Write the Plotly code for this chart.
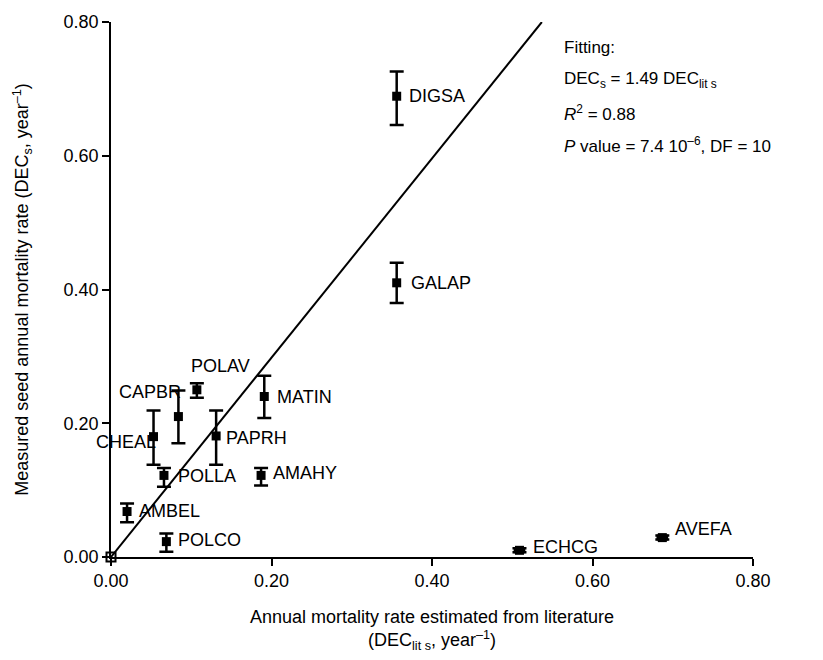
import plotly.graph_objects as go

species = ["DIGSA", "GALAP", "ECHCG", "AVEFA", "MATIN", "POLAV", "CAPBR",
           "CHEAL", "PAPRH", "POLLA", "AMAHY", "AMBEL", "POLCO"]
dec_lit = [0.356, 0.356, 0.509, 0.687, 0.191, 0.107, 0.084,
           0.053, 0.131, 0.066, 0.187, 0.020, 0.069]
dec_s = [0.689, 0.410, 0.010, 0.029, 0.240, 0.250, 0.210,
         0.180, 0.181, 0.122, 0.122, 0.068, 0.023]
err_plus = [0.037, 0.030, 0.003, 0.003, 0.031, 0.010, 0.039,
            0.039, 0.038, 0.011, 0.011, 0.012, 0.012]
err_minus = [0.043, 0.030, 0.003, 0.003, 0.032, 0.012, 0.040,
             0.042, 0.043, 0.017, 0.015, 0.016, 0.015]
err_x = [0, 0, 0.006, 0.006, 0, 0, 0, 0, 0, 0, 0, 0, 0]

slope = 1.49
axis_max = 0.8
tick_vals = [0.0, 0.2, 0.4, 0.6, 0.8]

# label placement (style): (xanchor, yanchor, xshift, yshift)
label_pos = {
    "DIGSA": ("left", "middle", 10, 0),
    "GALAP": ("left", "middle", 12, 0),
    "ECHCG": ("left", "middle", 12, 3),
    "AVEFA": ("left", "middle", 11, 9),
    "MATIN": ("left", "middle", 11, 0),
    "POLAV": ("center", "middle", 24, 24),
    "CAPBR": ("right", "middle", 5, 25),
    "CHEAL": ("right", "middle", 4, -5),
    "PAPRH": ("left", "middle", 8, -2),
    "POLLA": ("left", "middle", 12, -1),
    "AMAHY": ("left", "middle", 10, 2),
    "AMBEL": ("left", "middle", 10, 1),
    "POLCO": ("left", "middle", 10, 2),
}

FONT = "Liberation Sans, Arial, sans-serif"
FS = 18

fig = go.Figure()

# fitted line through origin
fig.add_trace(go.Scatter(
    x=[0, axis_max / slope], y=[0, axis_max], mode="lines",
    line=dict(color="black", width=2), showlegend=False, hoverinfo="skip",
    cliponaxis=False))

# origin point (open square)
fig.add_trace(go.Scatter(
    x=[0], y=[0], mode="markers",
    marker=dict(symbol="square-open", size=9, color="black", line=dict(width=2)),
    showlegend=False, cliponaxis=False))

fig.add_trace(go.Scatter(
    x=dec_lit, y=dec_s, mode="markers",
    marker=dict(symbol="square", size=9, color="black"),
    error_y=dict(type="data", array=err_plus, arrayminus=err_minus,
                 color="black", thickness=2.5, width=7),
    error_x=dict(type="data", array=err_x, color="black", thickness=2, width=3),
    showlegend=False, cliponaxis=False))

annotations = []
for name, xv, yv in zip(species, dec_lit, dec_s):
    xa, ya, xs, ys = label_pos[name]
    annotations.append(dict(
        x=xv, y=yv, xref="x", yref="y", text=name, showarrow=False,
        xanchor=xa, yanchor=ya, xshift=xs, yshift=ys,
        font=dict(family=FONT, size=FS, color="black")))

fit_lines = [
    "Fitting:",
    "DEC<sub>s</sub> = 1.49 DEC<sub>lit s</sub>",
    "<i>R</i><sup>2</sup> = 0.88",
    "<i>P</i> value = 7.4 10<sup>\u20136</sup>, DF = 10",
]
fit_y = [0.952, 0.891, 0.829, 0.770]
for t, yy in zip(fit_lines, fit_y):
    annotations.append(dict(
        x=0.7025, y=yy, xref="paper", yref="paper", text=t, showarrow=False,
        xanchor="left", yanchor="middle",
        font=dict(family=FONT, size=17, color="black")))

axis_common = dict(
    range=[0, axis_max], tickvals=tick_vals, tickformat=".2f",
    showline=True, linecolor="black", linewidth=1.5,
    ticks="outside", ticklen=7, tickwidth=1.5, tickcolor="black",
    showgrid=False, zeroline=False,
    tickfont=dict(family=FONT, size=FS, color="black"),
)

fig.update_layout(
    width=823, height=660,
    margin=dict(l=111, r=70, t=14, b=103),
    plot_bgcolor="white", paper_bgcolor="white",
    xaxis=dict(**axis_common,
               title=dict(text="Annual mortality rate estimated from literature<br>"
                               "(DEC<sub>lit s</sub>, year<sup>\u20131</sup>)",
                          font=dict(family=FONT, size=FS, color="black"),
                          standoff=20)),
    yaxis=dict(**axis_common,
               title=dict(text="Measured seed annual mortality rate "
                               "(DEC<sub>s</sub>, year<sup>\u20131</sup>)",
                          font=dict(family=FONT, size=FS, color="black"),
                          standoff=30)),
    annotations=annotations,
    showlegend=False,
)

fig.write_html("out.html")
